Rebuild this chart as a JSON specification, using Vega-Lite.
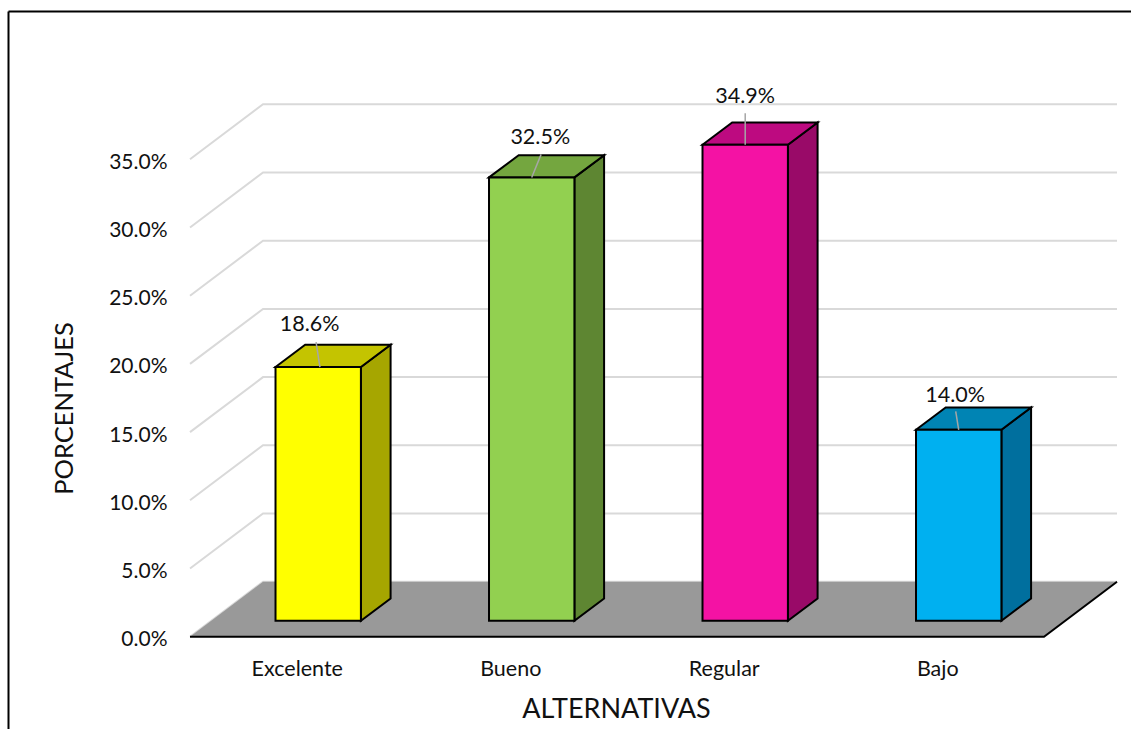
{
  "$schema": "https://vega.github.io/schema/vega-lite/v6.json",
  "width": 1123,
  "height": 718,
  "padding": {"left": 8, "top": 11, "right": 0, "bottom": 0},
  "autosize": "none",
  "background": "white",
  "view": {"stroke": null},
  "config": {"font": "Lato", "text": {"font": "Lato"}},
  "datasets": {
    "alternativas": [
      {"alternativa": "Excelente", "porcentaje": 18.6},
      {"alternativa": "Bueno", "porcentaje": 32.5},
      {"alternativa": "Regular", "porcentaje": 34.9},
      {"alternativa": "Bajo", "porcentaje": 14.0}
    ],
    "niveles": [
      {"nivel": 0}, {"nivel": 5}, {"nivel": 10}, {"nivel": 15},
      {"nivel": 20}, {"nivel": 25}, {"nivel": 30}, {"nivel": 35}
    ]
  },
  "encoding": {
    "x": {
      "field": "px",
      "type": "quantitative",
      "scale": {"domain": [-0.8525, 4.4075], "nice": false, "zero": false},
      "axis": {
        "orient": "top",
        "values": [0.5, 1.5, 2.5, 3.5],
        "labelExpr": "['Excelente','Bueno','Regular','Bajo'][datum.value - 0.5]",
        "labelFontSize": 21.5,
        "labelColor": "#111111",
        "labelBaseline": "alphabetic",
        "labelPadding": -664,
        "labelFlush": false,
        "labelBound": false,
        "labelOverlap": false,
        "ticks": false,
        "grid": false,
        "domain": true,
        "domainColor": "black",
        "domainWidth": 2,
        "title": "ALTERNATIVAS",
        "titleFontSize": 27,
        "titleFontWeight": "normal",
        "titleColor": "#111111",
        "titleX": 608,
        "titleY": 698,
        "titleAlign": "center",
        "titleBaseline": "middle"
      }
    },
    "y": {
      "field": "py",
      "type": "quantitative",
      "stack": null,
      "scale": {"domain": [-6.767, 45.87], "nice": false, "zero": false},
      "axis": {
        "orient": "left",
        "values": [0, 5, 10, 15, 20, 25, 30, 35],
        "labelExpr": "format(datum.value, '.1f') + '%'",
        "labelFontSize": 21,
        "labelColor": "#111111",
        "labelPadding": -159,
        "labelOffset": 3,
        "labelBound": false,
        "labelOverlap": false,
        "ticks": false,
        "grid": false,
        "domain": true,
        "domainColor": "black",
        "domainWidth": 2,
        "title": "PORCENTAJES",
        "titleFontSize": 25.5,
        "titleFontWeight": "normal",
        "titleColor": "#111111",
        "titleAngle": 270,
        "titleX": 56,
        "titleY": 397,
        "titleAlign": "center",
        "titleBaseline": "middle"
      }
    }
  },
  "layer": [
    {
      "description": "Wall gridlines: a diagonal from the front edge, then along the back wall",
      "data": {"name": "niveles"},
      "transform": [
        {"calculate": "[0, 0.342, 4.342]", "as": "px"},
        {"calculate": "[datum.nivel, datum.nivel + 4.03, datum.nivel + 4.03]", "as": "py"},
        {"flatten": ["px", "py"]}
      ],
      "mark": {"type": "line", "stroke": "#d9d9d9", "strokeWidth": 2},
      "encoding": {"detail": {"field": "nivel"}}
    },
    {
      "description": "Chart floor",
      "data": {"name": "niveles"},
      "transform": [
        {"filter": "datum.nivel === 0"},
        {"calculate": "[0, 0.342, 4, 4.342]", "as": "px"},
        {"calculate": "[0, 4.03, 4.03, 4.03]", "as": "py"},
        {"calculate": "[0, 0, 0, 4.03]", "as": "py2"},
        {"flatten": ["px", "py", "py2"]}
      ],
      "mark": {"type": "area", "orient": "vertical", "fill": "#999999"},
      "encoding": {"y2": {"field": "py2"}}
    },
    {
      "description": "Floor front and right edges",
      "data": {"name": "niveles"},
      "transform": [
        {"filter": "datum.nivel === 0"},
        {"calculate": "[0, 4, 4.342]", "as": "px"},
        {"calculate": "[0, 0, 4.03]", "as": "py"},
        {"flatten": ["px", "py"]}
      ],
      "mark": {"type": "line", "stroke": "black", "strokeWidth": 2}
    },
    {
      "description": "Right side face of each bar",
      "data": {"name": "alternativas"},
      "transform": [
        {"calculate": "indexof(['Excelente','Bueno','Regular','Bajo'], datum.alternativa)", "as": "orden"},
        {"calculate": "[0, 1]", "as": "t"},
        {"flatten": ["t"]},
        {"calculate": "datum.orden + 0.8005 + datum.t * 0.139", "as": "px"},
        {"calculate": "datum.porcentaje + 1.17 + datum.t * 1.63", "as": "py"},
        {"calculate": "1.17 + datum.t * 1.63", "as": "py2"}
      ],
      "mark": {"type": "area", "orient": "vertical", "stroke": "black", "strokeWidth": 2, "strokeJoin": "miter"},
      "encoding": {
        "y2": {"field": "py2"},
        "fill": {
          "field": "alternativa",
          "type": "nominal",
          "legend": null,
          "scale": {
            "domain": ["Excelente", "Bueno", "Regular", "Bajo"],
            "range": ["#a6a600", "#5e8632", "#990a68", "#006f9e"]
          }
        }
      }
    },
    {
      "description": "Top face of each bar",
      "data": {"name": "alternativas"},
      "transform": [
        {"calculate": "indexof(['Excelente','Bueno','Regular','Bajo'], datum.alternativa)", "as": "orden"},
        {"calculate": "[0.4005, 0.5395, 0.8005, 0.9395]", "as": "dx"},
        {"calculate": "[0, 1.63, 1.63, 1.63]", "as": "dy"},
        {"calculate": "[0, 0, 0, 1.63]", "as": "dy2"},
        {"flatten": ["dx", "dy", "dy2"]},
        {"calculate": "datum.orden + datum.dx", "as": "px"},
        {"calculate": "datum.porcentaje + 1.17 + datum.dy", "as": "py"},
        {"calculate": "datum.porcentaje + 1.17 + datum.dy2", "as": "py2"}
      ],
      "mark": {"type": "area", "orient": "vertical", "stroke": "black", "strokeWidth": 2, "strokeJoin": "miter"},
      "encoding": {
        "y2": {"field": "py2"},
        "fill": {
          "field": "alternativa",
          "type": "nominal",
          "legend": null,
          "scale": {
            "domain": ["Excelente", "Bueno", "Regular", "Bajo"],
            "range": ["#c4c400", "#74a63f", "#bd0a80", "#0084b4"]
          }
        }
      }
    },
    {
      "description": "Front face of each bar",
      "data": {"name": "alternativas"},
      "transform": [
        {"calculate": "indexof(['Excelente','Bueno','Regular','Bajo'], datum.alternativa)", "as": "orden"},
        {"calculate": "datum.orden + 0.4005", "as": "px"},
        {"calculate": "datum.orden + 0.8005", "as": "px2"},
        {"calculate": "datum.porcentaje + 1.17", "as": "py"},
        {"calculate": "1.17", "as": "py2"}
      ],
      "mark": {"type": "rect", "stroke": "black", "strokeWidth": 2},
      "encoding": {
        "x2": {"field": "px2"},
        "y2": {"field": "py2"},
        "fill": {
          "field": "alternativa",
          "type": "nominal",
          "legend": null,
          "scale": {
            "domain": ["Excelente", "Bueno", "Regular", "Bajo"],
            "range": ["#ffff00", "#92d050", "#f412a4", "#00b0f0"]
          }
        }
      }
    },
    {
      "description": "Leader lines from the bars to their value labels",
      "data": {"name": "alternativas"},
      "transform": [
        {"calculate": "indexof(['Excelente','Bueno','Regular','Bajo'], datum.alternativa)", "as": "orden"},
        {"calculate": "datum.orden + 0.6005 + [0.008, 0, 0, 0][datum.orden]", "as": "px"},
        {"calculate": "datum.orden + 0.6005 + [-0.01, 0.044, 0, -0.014][datum.orden]", "as": "px2"},
        {"calculate": "datum.porcentaje + 1.17", "as": "py"},
        {"calculate": "datum.porcentaje + 1.17 + [1.83, 1.69, 2.3, 1.34][datum.orden]", "as": "py2"}
      ],
      "mark": {"type": "rule", "stroke": "#a6a6a6", "strokeWidth": 1.5},
      "encoding": {"x2": {"field": "px2"}, "y2": {"field": "py2"}}
    },
    {
      "description": "Value labels",
      "data": {"name": "alternativas"},
      "transform": [
        {"calculate": "indexof(['Excelente','Bueno','Regular','Bajo'], datum.alternativa)", "as": "orden"},
        {"calculate": "datum.orden + 0.6005 + [-0.04, 0.04, 0, -0.017][datum.orden]", "as": "px"},
        {"calculate": "datum.porcentaje + 1.17 + [3.05, 2.87, 3.5, 2.47][datum.orden]", "as": "py"},
        {"calculate": "format(datum.porcentaje, '.1f') + '%'", "as": "etiqueta"}
      ],
      "mark": {"type": "text", "fontSize": 21.5, "color": "#111111", "align": "center", "baseline": "middle"},
      "encoding": {"text": {"field": "etiqueta"}}
    }
  ],
  "resolve": {"scale": {"fill": "independent"}}
}
